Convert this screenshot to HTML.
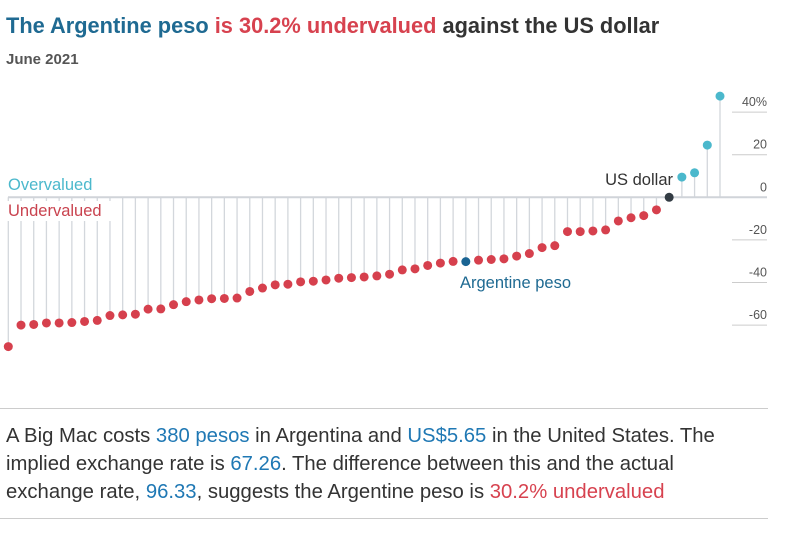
<!DOCTYPE html>
<html><head><meta charset="utf-8"><style>
body{margin:0;background:#fff;width:800px;height:541px;overflow:hidden;font-family:"Liberation Sans",sans-serif;position:relative}
.t{position:absolute;white-space:nowrap}
</style></head><body>
<div class="t" style="left:6px;top:13px;font-size:21.8px;font-weight:bold;color:#333"><span style="color:#1f6a92">The Argentine peso</span> <span style="color:#d7424f">is 30.2% undervalued</span> against the US dollar</div>
<div class="t" style="left:6px;top:51px;font-size:15px;font-weight:bold;color:#555">June 2021</div>
<svg id="c" width="800" height="400" style="position:absolute;left:0;top:0"></svg>
<div style="position:absolute;left:0;top:408px;width:768px;height:1px;background:#ccc"></div>
<div style="position:absolute;left:6px;top:422px;width:790px;white-space:nowrap;font-size:20.3px;line-height:28px;color:#333">A Big Mac costs <span style="color:#1f78b4">380 pesos</span> in Argentina and <span style="color:#1f78b4">US$5.65</span> in the United States. The<br>implied exchange rate is <span style="color:#1f78b4">67.26</span>. The difference between this and the actual<br>exchange rate, <span style="color:#1f78b4">96.33</span>, suggests the Argentine peso is <span style="color:#d7424f">30.2% undervalued</span></div>
<div style="position:absolute;left:0;top:518px;width:768px;height:1px;background:#ccc"></div>
<script>
const values=[-70.1,-60,-59.7,-59,-59,-58.8,-58.3,-57.8,-55.5,-55.2,-54.9,-52.5,-52.4,-50.4,-49,-48.2,-47.6,-47.5,-47.3,-44.2,-42.6,-41.1,-40.8,-39.7,-39.4,-38.8,-38,-37.7,-37.4,-36.9,-36.1,-34.1,-33.6,-32,-30.9,-30.1,-30.2,-29.5,-29.2,-28.9,-27.6,-26.4,-23.6,-22.7,-16.1,-16.1,-15.8,-15.3,-11.1,-9.6,-8.6,-5.9,0,9.5,11.5,24.5,47.5];
const argIndex=36, usIndex=52;
const ticks=[40,20,0,-20,-40,-60];
const tickLabels=["40%","20","0","-20","-40","-60"];
const svg=document.getElementById('c');const NS='http://www.w3.org/2000/svg';
const y=v=>197.3-v*2.13;
const x=i=>8.3+i*(720-8.3)/(values.length-1);
function mk(t,a,name){const e=document.createElementNS(NS,t);for(const k in a)e.setAttribute(k,a[k]);


svg.appendChild(e);return e;}
ticks.forEach((t,i)=>{
 if(t!==0)mk('line',{x1:732,x2:767,y1:y(t),y2:y(t),stroke:'#ccc','stroke-width':1},'gridline');
 const tx=mk('text',{x:767,y:y(t)-6,'text-anchor':'end','font-size':12.5,fill:'#555','font-family':'Liberation Sans'},'y-tick-label');tx.textContent=tickLabels[i];
});
values.forEach((v,i)=>{mk('line',{x1:x(i),x2:x(i),y1:y(0),y2:y(v),stroke:'#d3d7dc','stroke-width':1.3},'stem');});
mk('line',{x1:8,x2:767,y1:y(0),y2:y(0),stroke:'#d0d4d9','stroke-width':2},'zero-line');
mk('rect',{x:6,y:201,width:106,height:20,fill:'#fff'},'label-bg');
mk('rect',{x:6,y:174,width:100,height:19,fill:'#fff'},'label-bg');
values.forEach((v,i)=>{let c=v>0?'#4bb8cc':'#d6404d';if(i===argIndex)c='#1a6493';if(i===usIndex)c='#333c44';
mk('circle',{cx:x(i),cy:y(v),r:4.5,fill:c},'dot');});
function lab(t,xx,yy,col,anc,name){const e=mk('text',{x:xx,y:yy,fill:col,'font-size':16.5,'text-anchor':anc,'font-family':'Liberation Sans'},name);e.textContent=t;}
lab('Overvalued',8,190,'#4bb8cc','start','overvalued-label');
lab('Undervalued',8,216,'#c9434f','start','undervalued-label');
lab('US dollar',673,185,'#333','end','us-dollar-label');
lab('Argentine peso',460,288,'#1f6a92','start','argentine-peso-label');
</script>
</body></html>
